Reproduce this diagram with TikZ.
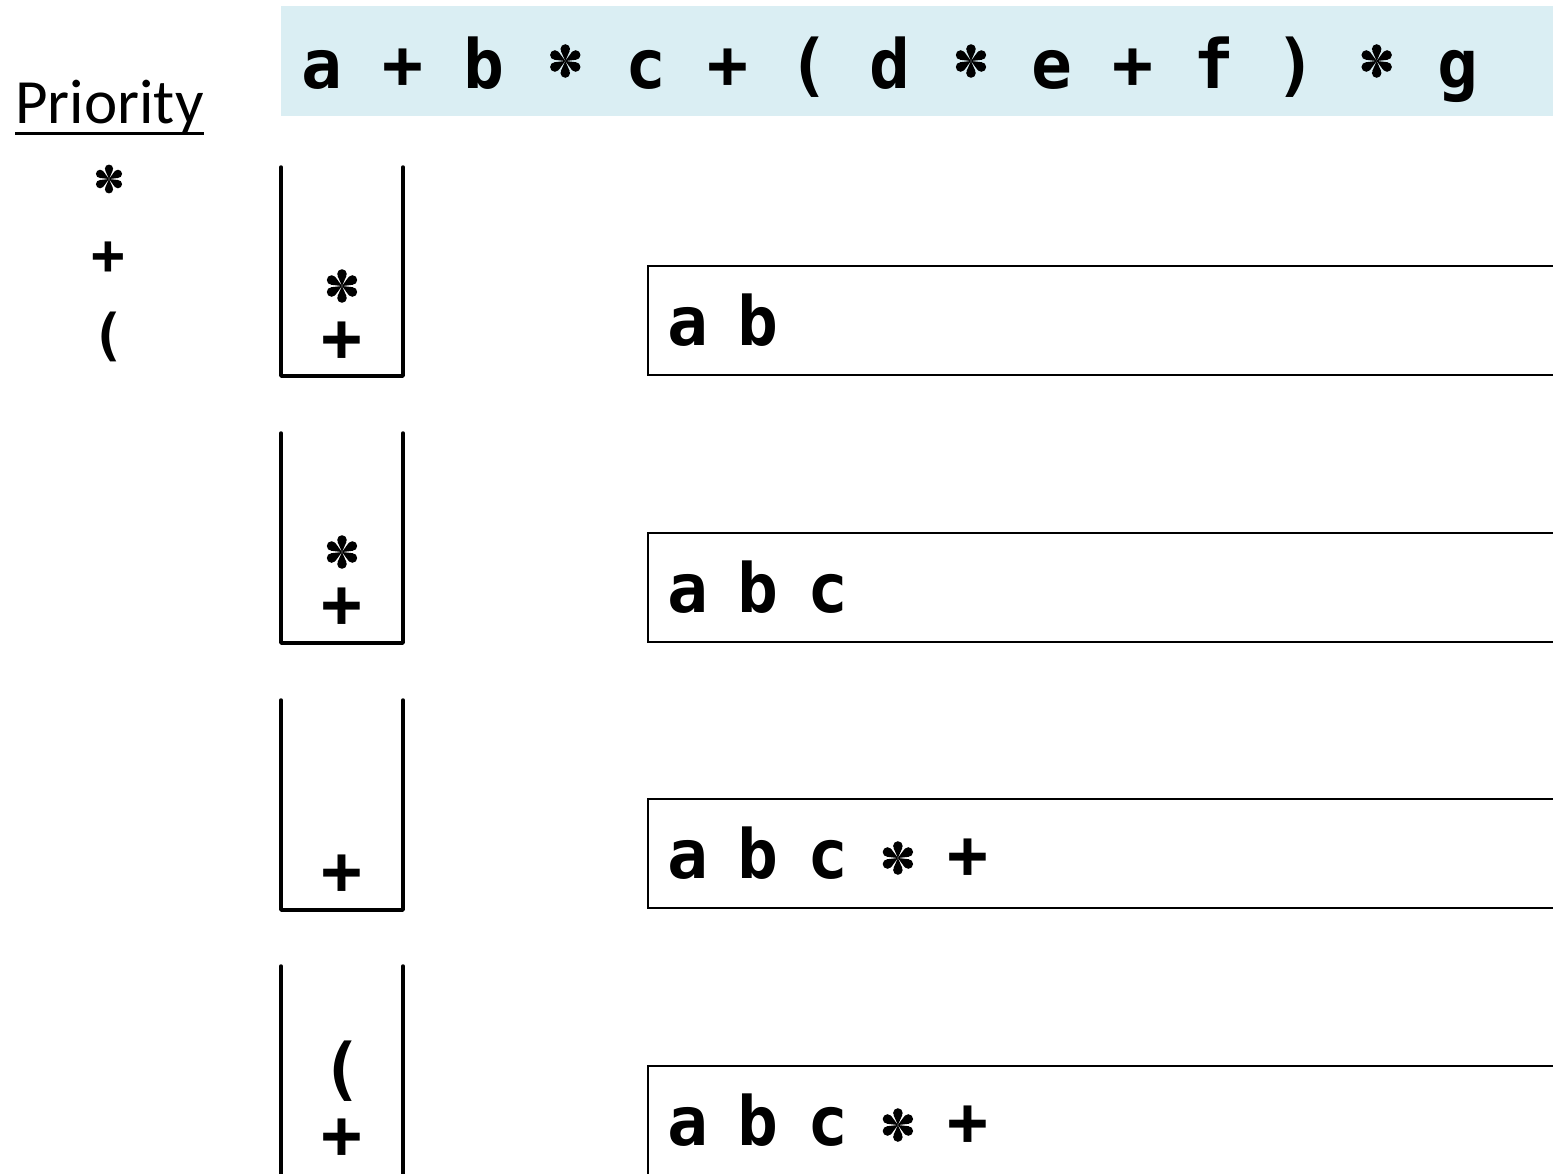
\documentclass[tikz,border=0pt]{standalone}
\usepackage{fontspec}
\usepackage{graphicx}
\newfontfamily\codefont{DejaVu Sans Mono}
\newfontfamily\prifont{Carlito}
\definecolor{exprfill}{HTML}{DAEEF3}
% six-petal asterisk, centred on its baseline
\newsavebox\starbox
\newcommand\drawstar{%
  \begin{pgfpicture}%
    \pgfsetbaseline{0pt}%
    \foreach \ang/\angl/\angr in {90/113.6/66.4,150/173.6/126.4,210/233.6/186.4,%
                                   270/293.6/246.4,330/353.6/306.4,30/53.6/6.4}{%
      \pgfpathcircle{\pgfpointpolar{\ang}{6pt}}{2.4pt}%
      \pgfusepath{fill}%
      \pgfpathmoveto{\pgfpointorigin}%
      \pgfpathlineto{\pgfpointpolar{\angl}{5.5pt}}%
      \pgfpathlineto{\pgfpointpolar{\angr}{5.5pt}}%
      \pgfpathclose
      \pgfusepath{fill}%
    }%
  \end{pgfpicture}}
% one character cell of a monospaced row
\newcommand\hc[1]{\makebox[20.47pt][c]{#1}}
\newcommand\oc[1]{\makebox[17.5pt][c]{#1}}
\newcommand\osp{\hspace*{17.5pt}}
\newcommand\hstar{\hc{\raisebox{13.5pt}{\usebox\starbox}}}
\newcommand\ostar{\oc{\raisebox{10pt}{\usebox\starbox}}}
\newcommand\exprspacing{\spaceskip 20.1pt\relax}
\tikzset{
  stackwall/.style={line width=1.75pt, line join=round, line cap=round},
  outbox/.style={line width=1pt},
  sym/.style={inner sep=0pt, font=\codefont\bfseries\fontsize{34}{40}\selectfont},
  prisym/.style={inner sep=0pt, font=\codefont\bfseries\fontsize{28}{34}\selectfont},
  outtxt/.style={anchor=base west, inner sep=0pt, font=\codefont\bfseries\fontsize{34}{40}\selectfont},
  exprtxt/.style={anchor=base west, inner sep=0pt, font=\codefont\bfseries\fontsize{34}{40}\selectfont},
}
\begin{document}
\sbox\starbox{\drawstar}%
\begin{tikzpicture}[x=0.5pt, y=-0.5pt]
\useasboundingbox (0,0) rectangle (1553,1173);

% infix expression
\fill[exprfill] (281,6) rectangle (1553,116);
\node[exprtxt] (expr) at (301,88)
  {\exprspacing a + b \hstar{} c + ( d \hstar{} e + f ) \hstar{} g};

% operator priority
\node[inner sep=0pt, anchor=base west, font=\prifont\fontsize{31.5}{36}\selectfont] (pri) at (15,123) {Priority};
\draw[line width=1.5pt] ([yshift=-5pt]pri.base west) -- ([yshift=-5pt]pri.base east);
\node[prisym] (p1) at (109,179) {\scalebox{0.86}{\usebox\starbox}};
\node[prisym] (p2) at (108,258) {+};
\node[prisym] (p3) at (108,337) {(};

% operator stacks
\draw[stackwall] (281,167) |- (403,376) -- (403,167);
\node[sym] (s1a) at (342,286) {\usebox\starbox};
\node[sym] (s1b) at (342,342) {+};

\draw[stackwall] (281,433) |- (403,643) -- (403,433);
\node[sym] (s2a) at (342,552) {\usebox\starbox};
\node[sym] (s2b) at (342,608) {+};

\draw[stackwall] (281,700) |- (403,910) -- (403,700);
\node[sym] (s3a) at (342,875) {+};

\draw[stackwall] (281,966) -- (281,1185);
\draw[stackwall] (403,966) -- (403,1185);
\node[sym] (s4a) at (342,1071) {(};
\node[sym] (s4b) at (342,1139) {+};

% postfix output
\draw[outbox] (1560,266) -| (648,375) -- (1560,375);
\node[outtxt] (o1) at (670,345) {\oc{a}\osp\oc{b}};

\draw[outbox] (1560,533) -| (648,642) -- (1560,642);
\node[outtxt] (o2) at (670,612) {\oc{a}\osp\oc{b}\osp\oc{c}};

\draw[outbox] (1560,799) -| (648,908) -- (1560,908);
\node[outtxt] (o3) at (670,878) {\oc{a}\osp\oc{b}\osp\oc{c}\osp\ostar\osp\oc{+}};

\draw[outbox] (1560,1066) -| (648,1180);
\node[outtxt] (o4) at (670,1145) {\oc{a}\osp\oc{b}\osp\oc{c}\osp\ostar\osp\oc{+}};
\end{tikzpicture}
\end{document}
